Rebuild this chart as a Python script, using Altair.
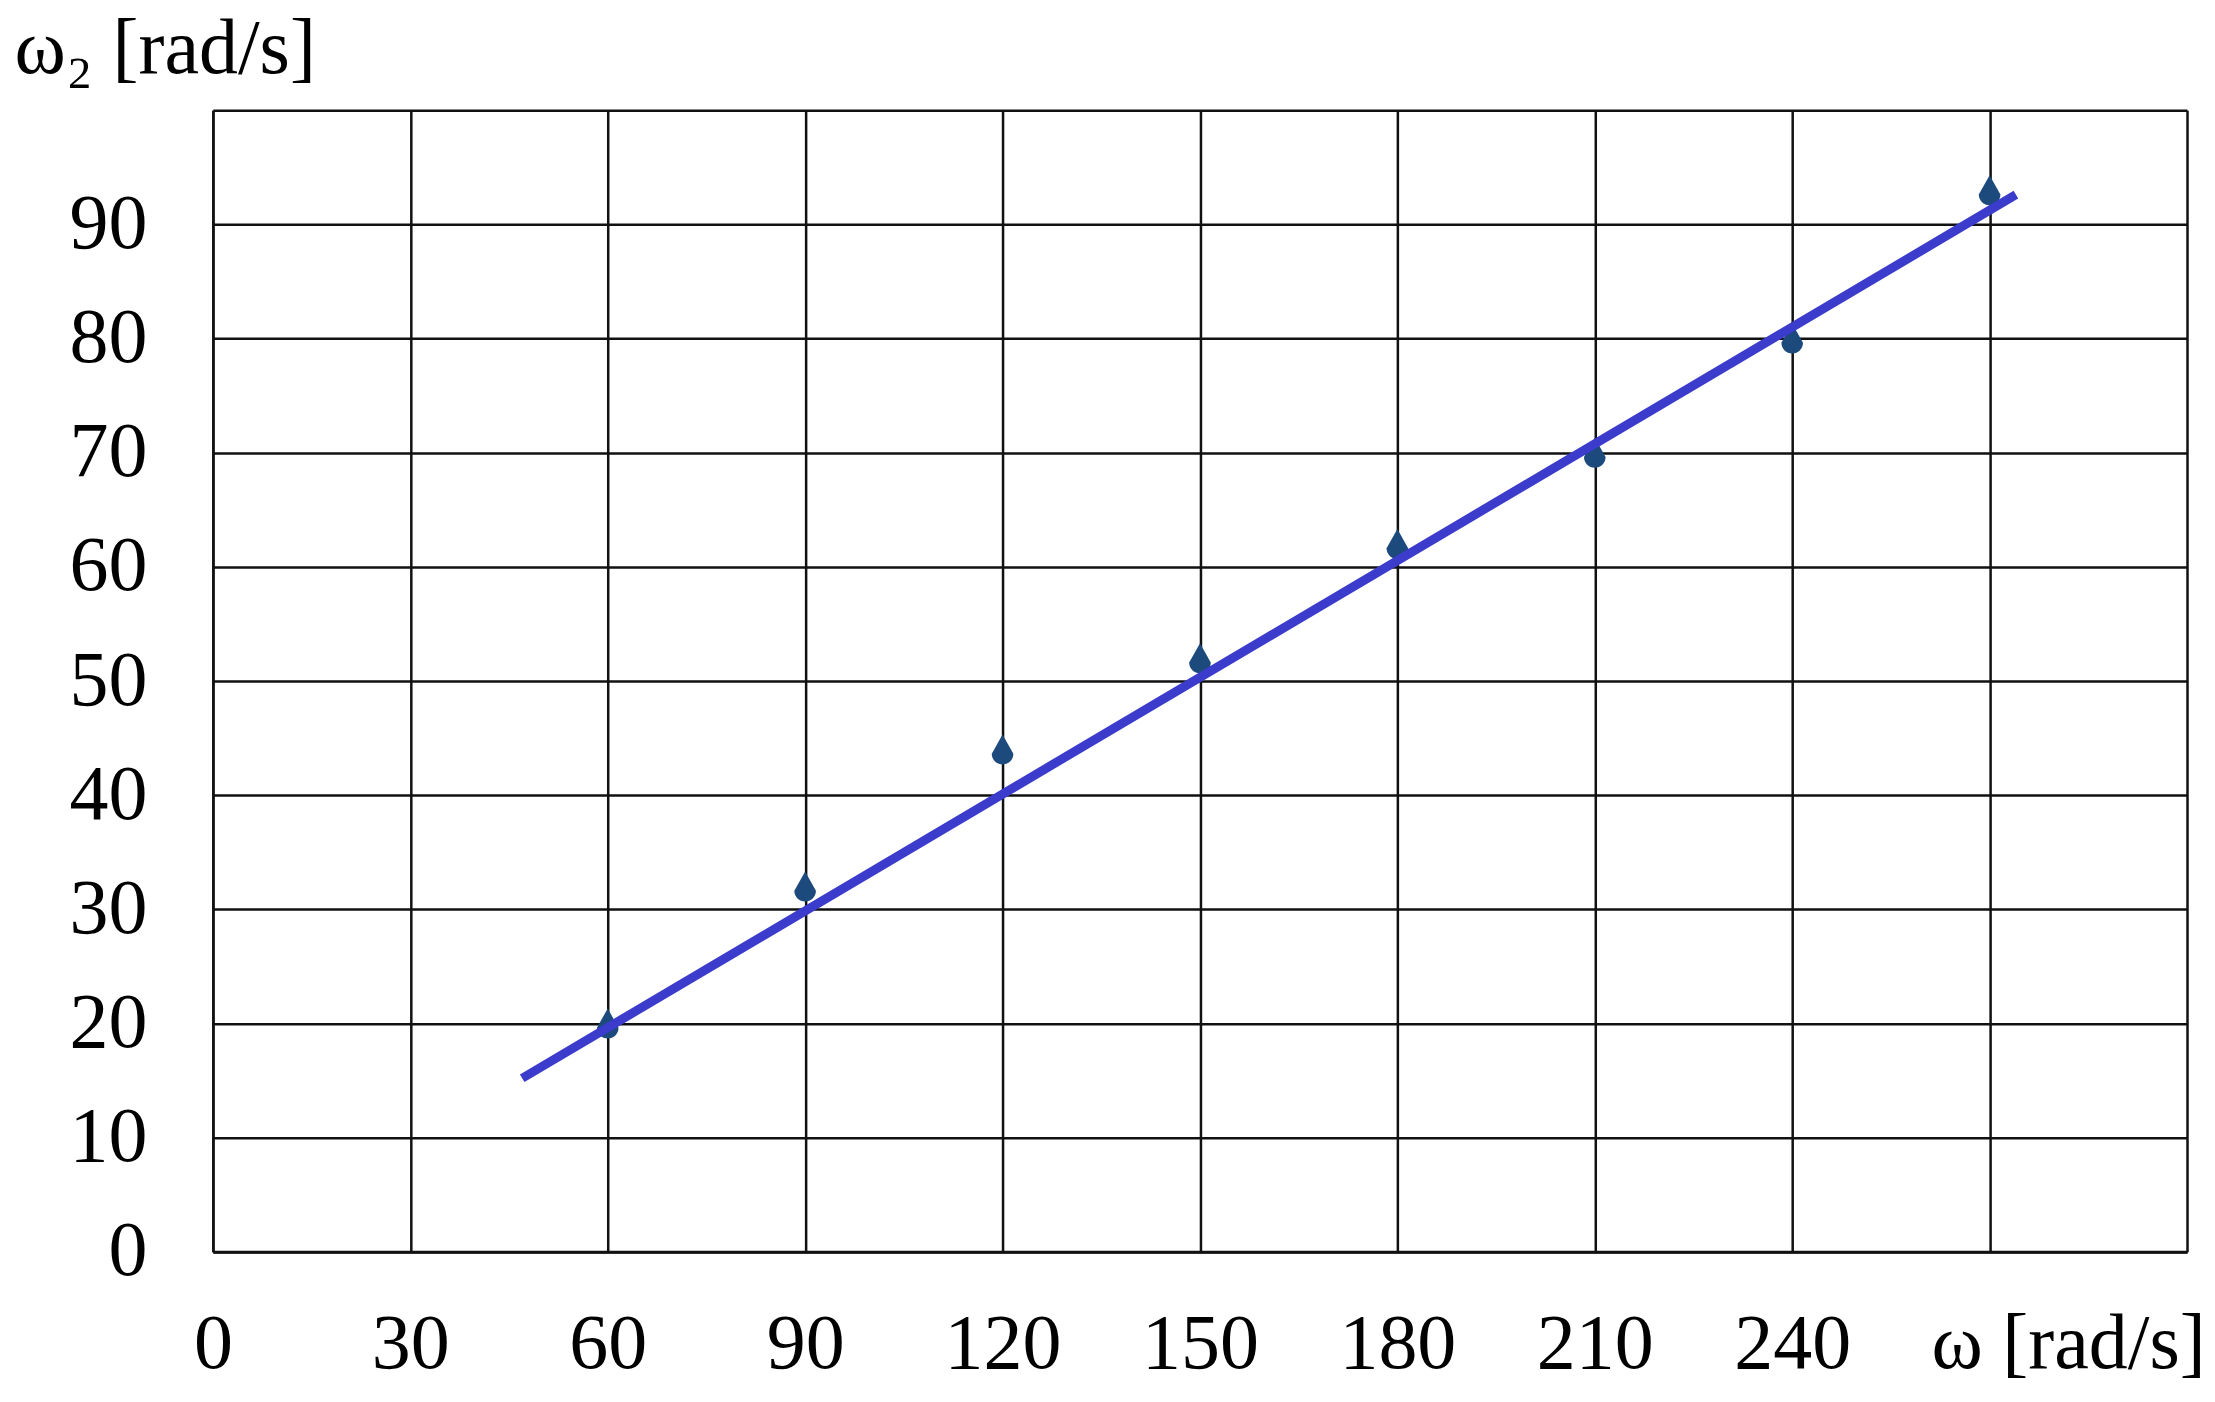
import altair as alt
import pandas as pd

# measured points
omega = [60, 90, 120, 150, 180, 210, 240, 270]
omega2 = [20, 32, 44, 52, 62, 70, 80, 93]

# fitted line end points
fit_x = [47, 274]
fit_y = [15.2, 92.6]

x_ticks = [0, 30, 60, 90, 120, 150, 180, 210, 240, 270, 300]
y_ticks = [0, 10, 20, 30, 40, 50, 60, 70, 80, 90, 100]

pts = pd.DataFrame({"x": omega, "y": omega2})
fit = pd.DataFrame({"x": fit_x, "y": fit_y})

FONT = "Liberation Serif"
FS = 78
GRID = "#111111"

xscale = alt.Scale(domain=[0, 300], nice=False, zero=False)
yscale = alt.Scale(domain=[0, 100], nice=False, zero=False)

x_axis = alt.Axis(
    values=x_ticks,
    grid=True,
    gridColor=GRID,
    gridWidth=2.5,
    gridOpacity=1,
    ticks=False,
    domainColor=GRID,
    domainWidth=3,
    labelFont=FONT,
    labelFontSize=FS,
    labelColor="#000000",
    labelBaseline="alphabetic",
    labelPadding=116,
    labelExpr="datum.value >= 270 ? '' : datum.label",
    labelOverlap=False,
    labelFlush=False,
    title="ω [rad/s]",
    titleFont=FONT,
    titleFontSize=FS,
    titleFontWeight="normal",
    titleColor="#000000",
    titleAlign="center",
    titleBaseline="alphabetic",
    titleX=1856,
    titleY=116,
)

y_axis = alt.Axis(
    values=y_ticks,
    grid=True,
    gridColor=GRID,
    gridWidth=2.5,
    gridOpacity=1,
    ticks=False,
    domainColor=GRID,
    domainWidth=2.5,
    labelFont=FONT,
    labelFontSize=FS,
    labelColor="#000000",
    labelBaseline="middle",
    labelPadding=66,
    labelExpr="datum.value >= 100 ? '' : datum.label",
    labelOverlap=False,
    labelFlush=False,
    title="ω₂ [rad/s]",
    titleFont=FONT,
    titleFontSize=FS,
    titleFontWeight="normal",
    titleColor="#000000",
    titleAngle=0,
    titleAlign="left",
    titleBaseline="alphabetic",
    titleX=-199,
    titleY=-38,
)

line = alt.Chart(fit).mark_line(
    color="#3b3bcc", strokeWidth=9, strokeCap="butt"
).encode(
    x=alt.X("x:Q", scale=xscale, axis=x_axis),
    y=alt.Y("y:Q", scale=yscale, axis=y_axis),
)

drop = "M0,-1L0.72,0.28A0.72,0.72,0,0,1,-0.72,0.28Z"
points = alt.Chart(pts).mark_point(
    shape=drop, filled=True, size=900, color="#1d4a7c", opacity=1
).encode(
    x=alt.X("x:Q", scale=xscale),
    y=alt.Y("y:Q", scale=yscale),
)

chart = (
    alt.layer(points, line)
    .properties(
        width=1975,
        height=1142,
        autosize=alt.AutoSizeParams(type="none"),
        padding={"left": 205, "top": 102, "right": 20, "bottom": 170},
    )
    .configure_view(stroke=GRID, strokeWidth=2.5)
    .configure(background="white")
)

chart.save("out.html", embed_options={"renderer": "svg", "actions": False})
